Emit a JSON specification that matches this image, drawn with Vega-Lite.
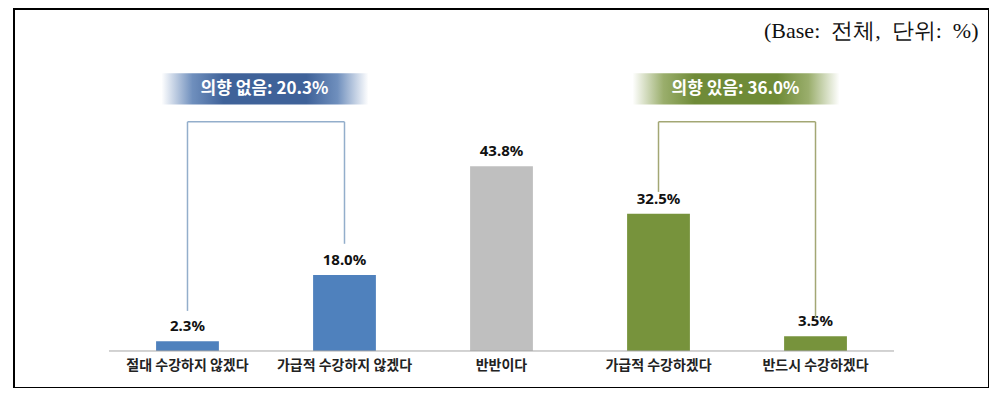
{
  "$schema": "https://vega.github.io/schema/vega-lite/v6.json",
  "width": 975,
  "height": 379,
  "padding": {"left": 14, "top": 9, "right": 0, "bottom": 0},
  "autosize": "none",
  "background": "white",
  "config": {"view": {"stroke": "#000000", "strokeWidth": 2}},
  "datasets": {
    "bars": [
      {"cat": "절대 수강하지 않겠다", "value": 2.3, "label": "2.3%", "grp": "no"},
      {"cat": "가급적 수강하지 않겠다", "value": 18.0, "label": "18.0%", "grp": "no"},
      {"cat": "반반이다", "value": 43.8, "label": "43.8%", "grp": "mid"},
      {"cat": "가급적 수강하겠다", "value": 32.5, "label": "32.5%", "grp": "yes"},
      {"cat": "반드시 수강하겠다", "value": 3.5, "label": "3.5%", "grp": "yes"}
    ],
    "segs": [
      {"a": "절대 수강하지 않겠다", "b": "절대 수강하지 않겠다", "y1": 9.5, "y2": 54.3, "grp": "no"},
      {"a": "절대 수강하지 않겠다", "b": "가급적 수강하지 않겠다", "y1": 54.3, "y2": 54.3, "grp": "no"},
      {"a": "가급적 수강하지 않겠다", "b": "가급적 수강하지 않겠다", "y1": 25.4, "y2": 54.3, "grp": "no"},
      {"a": "가급적 수강하겠다", "b": "가급적 수강하겠다", "y1": 37.7, "y2": 54.3, "grp": "yes"},
      {"a": "가급적 수강하겠다", "b": "반드시 수강하겠다", "y1": 54.3, "y2": 54.3, "grp": "yes"},
      {"a": "반드시 수강하겠다", "b": "반드시 수강하겠다", "y1": 7.8, "y2": 54.3, "grp": "yes"}
    ]
  },
  "layer": [
    {
      "data": {"name": "bars"},
      "mark": {"type": "bar", "width": {"band": 0.4}},
      "encoding": {
        "x": {
          "field": "cat", "type": "nominal", "sort": null,
          "scale": {
            "domain": ["절대 수강하지 않겠다", "가급적 수강하지 않겠다", "반반이다", "가급적 수강하겠다", "반드시 수강하겠다"],
            "paddingInner": 0, "paddingOuter": 0.605
          },
          "axis": null
        },
        "y": {
          "field": "value", "type": "quantitative",
          "scale": {"domain": [-8.77, 81.04], "nice": false, "zero": false},
          "axis": null
        },
        "y2": {"datum": 0},
        "color": {
          "field": "grp", "type": "nominal",
          "scale": {"domain": ["no", "mid", "yes"], "range": ["#4f81bd", "#bfbfbf", "#77933c"]},
          "legend": null
        }
      }
    },
    {
      "data": {"values": [{"a": 1}]},
      "mark": {"type": "rule", "color": "#a6a6a6", "strokeWidth": 1},
      "encoding": {
        "x": {"datum": "절대 수강하지 않겠다", "type": "nominal", "bandPosition": 0},
        "x2": {"datum": "반드시 수강하겠다", "bandPosition": 1},
        "y": {"datum": 0}
      }
    },
    {
      "data": {"name": "bars"},
      "mark": {"type": "text", "baseline": "bottom", "dy": -7, "font": "Noto Sans", "fontWeight": "bold", "fontSize": 15, "color": "#111111"},
      "encoding": {
        "x": {"field": "cat", "type": "nominal", "sort": null},
        "y": {"field": "value", "type": "quantitative"},
        "text": {"field": "label"}
      }
    },
    {
      "data": {"name": "bars"},
      "mark": {"type": "text", "baseline": "middle", "font": "Noto Sans CJK KR", "fontWeight": "bold", "fontSize": 14, "color": "#222222"},
      "encoding": {
        "x": {"field": "cat", "type": "nominal", "sort": null},
        "y": {"datum": -3.6},
        "text": {"field": "cat"}
      }
    },
    {
      "data": {"name": "segs"},
      "mark": {"type": "rule", "strokeWidth": 1.5},
      "encoding": {
        "x": {"field": "a", "type": "nominal"},
        "x2": {"field": "b"},
        "y": {"field": "y1", "type": "quantitative"},
        "y2": {"field": "y2"},
        "stroke": {"field": "grp", "type": "nominal", "scale": {"domain": ["no", "yes"], "range": ["#93aecb", "#a3a774"]}, "legend": null}
      }
    },
    {
      "data": {"values": [{"a": "절대 수강하지 않겠다", "b": "가급적 수강하지 않겠다", "lab": "의향 없음: 20.3%"}]},
      "layer": [
        {
          "mark": {
            "type": "rect", "xOffset": -26, "x2Offset": 24,
            "fill": {"gradient": "linear", "x1": 0, "x2": 1, "y1": 0, "y2": 0,
              "stops": [
                {"offset": 0, "color": "#ffffff"},
                {"offset": 0.15, "color": "#6f8fbd"},
                {"offset": 0.3, "color": "#3f6299"},
                {"offset": 0.7, "color": "#3f6299"},
                {"offset": 0.85, "color": "#6f8fbd"},
                {"offset": 1, "color": "#ffffff"}
              ]}
          },
          "encoding": {
            "x": {"field": "a", "type": "nominal"},
            "x2": {"field": "b"},
            "y": {"datum": 65.8},
            "y2": {"datum": 58.4}
          }
        },
        {
          "mark": {"type": "text", "dx": 77, "baseline": "middle", "font": "Noto Sans CJK KR", "fontWeight": "bold", "fontSize": 17, "color": "#ffffff"},
          "encoding": {
            "x": {"field": "a", "type": "nominal"},
            "y": {"datum": 62.1},
            "text": {"field": "lab"}
          }
        }
      ]
    },
    {
      "data": {"values": [{"a": "가급적 수강하겠다", "b": "반드시 수강하겠다", "lab": "의향 있음: 36.0%"}]},
      "layer": [
        {
          "mark": {
            "type": "rect", "xOffset": -26, "x2Offset": 24,
            "fill": {"gradient": "linear", "x1": 0, "x2": 1, "y1": 0, "y2": 0,
              "stops": [
                {"offset": 0, "color": "#ffffff"},
                {"offset": 0.15, "color": "#9aae6c"},
                {"offset": 0.3, "color": "#6f8b38"},
                {"offset": 0.7, "color": "#6f8b38"},
                {"offset": 0.85, "color": "#9aae6c"},
                {"offset": 1, "color": "#ffffff"}
              ]}
          },
          "encoding": {
            "x": {"field": "a", "type": "nominal"},
            "x2": {"field": "b"},
            "y": {"datum": 65.8},
            "y2": {"datum": 58.4}
          }
        },
        {
          "mark": {"type": "text", "dx": 77, "baseline": "middle", "font": "Noto Sans CJK KR", "fontWeight": "bold", "fontSize": 17, "color": "#ffffff"},
          "encoding": {
            "x": {"field": "a", "type": "nominal"},
            "y": {"datum": 62.1},
            "text": {"field": "lab"}
          }
        }
      ]
    },
    {
      "data": {"values": [{"a": "반드시 수강하겠다", "t": "(Base:\u00a0\u00a0전체,\u00a0\u00a0단위:\u00a0\u00a0%)"}]},
      "mark": {"type": "text", "align": "right", "baseline": "middle", "dx": 163, "font": "Liberation Serif", "fontSize": 22, "color": "#111111"},
      "encoding": {
        "x": {"field": "a", "type": "nominal"},
        "y": {"datum": 75.8},
        "text": {"field": "t"}
      }
    }
  ]
}
